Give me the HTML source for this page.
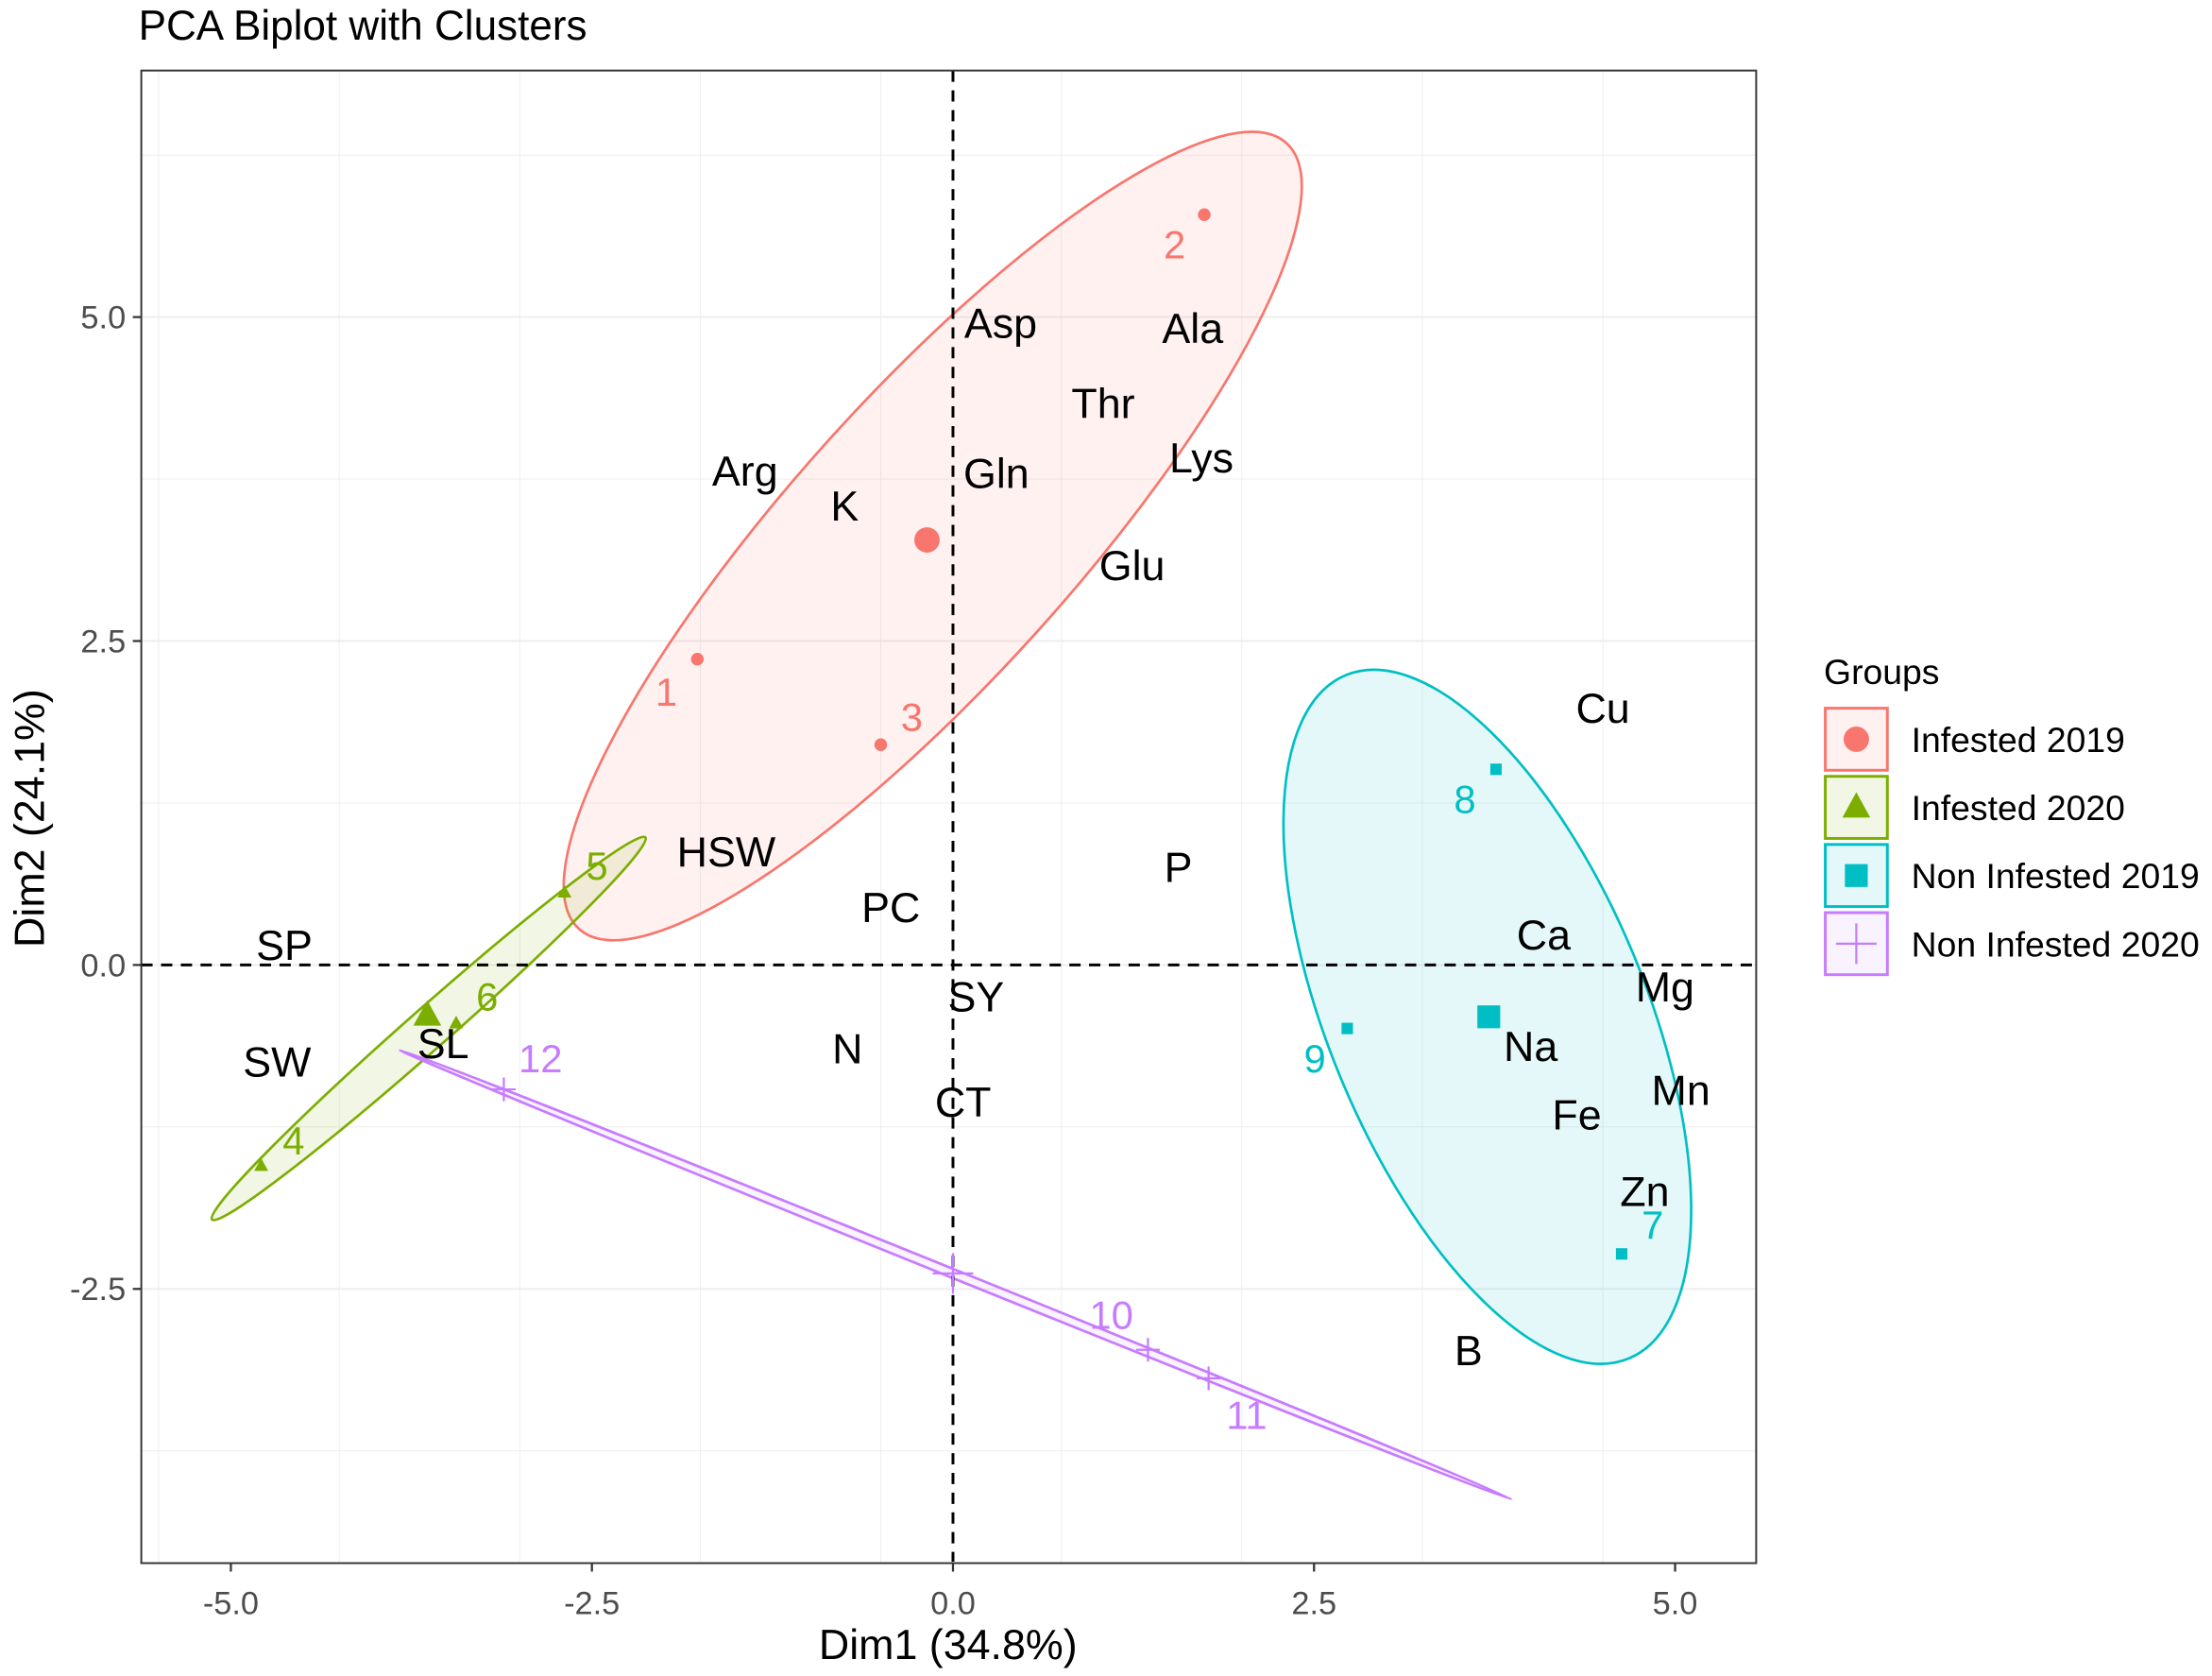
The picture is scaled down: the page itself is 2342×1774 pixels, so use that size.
<!DOCTYPE html>
<html><head><meta charset="utf-8"><style>
html,body{margin:0;padding:0;background:#fff}
svg{display:block}
text{font-family:"Liberation Sans",Arial,sans-serif}
</style></head><body>
<svg id="chart" width="2342" height="1774" viewBox="0 0 1568 1188" xmlns="http://www.w3.org/2000/svg">
<text x="98" y="28" font-size="29.5" fill="#000">PCA Biplot with Clusters</text>
<g id="grid"></g>
<g id="ells"></g>
<g id="axes0"></g>
<g id="pts"></g>
<g id="vars"></g>
<rect x="100" y="50" width="1145" height="1058" fill="none" stroke="#333" stroke-width="1.3"/>
<g id="ticks"></g>
<text x="672" y="1176" font-size="30" text-anchor="middle">Dim1 (34.8%)</text>
<text transform="translate(31,580) rotate(-90)" font-size="30" text-anchor="middle">Dim2 (24.1%)</text>
<g id="legend"></g>
</svg>
<script>
const xTicks=[-5,-2.5,0,2.5,5];
const yTicks=[-2.5,0,2.5,5];
const xTickLabels=["-5.0","-2.5","0.0","2.5","5.0"];
const yTickLabels=["-2.5","0.0","2.5","5.0"];
const groups=["Infested 2019","Infested 2020","Non  Infested 2019","Non  Infested 2020"];
const colors=["#F8766D","#7CAE00","#00BFC4","#C77CFF"];
const obsLabels=["1","2","3","4","5","6","7","8","9","10","11","12"];
const obsGroup=[0,0,0,1,1,1,2,2,2,3,3,3];
const obsX=[-1.77,1.74,-0.5,-4.79,-2.69,-3.44,4.63,3.76,2.73,1.35,1.77,-3.11];
const obsY=[2.36,5.79,1.70,-1.55,0.56,-0.45,-2.23,1.51,-0.49,-2.97,-3.19,-0.96];
const centX=[-0.18,-3.64,3.71,0.0];
const centY=[3.28,-0.39,-0.40,-2.38];
const varNames=["Asp","Ala","Thr","Lys","Arg","K","Gln","Glu","HSW","PC","P","SP","SW","SL","N","SY","CT","Cu","Ca","Mg","Na","Mn","Fe","Zn","B"];
const varX=[0.33,1.66,1.04,1.72,-1.44,-0.75,0.30,1.24,-1.57,-0.43,1.56,-4.63,-4.68,-3.53,-0.73,0.16,0.07,4.50,4.09,4.93,4.00,5.04,4.32,4.79,3.57];
const varY=[4.96,4.92,4.34,3.92,3.82,3.55,3.80,3.09,0.88,0.45,0.76,0.16,-0.74,-0.60,-0.64,-0.24,-1.05,1.99,0.24,-0.16,-0.62,-0.96,-1.15,-1.74,-2.97];
const ellCX=[-0.14,-3.63,3.7,0.02];
const ellCY=[3.31,-0.49,-0.4,-2.39];
const ellA=[3.66,2.0,2.56,4.15];
const ellB=[0.98,0.14,1.1,0.03];
const ellAng=[-48,-41.4,67.5,22];
const lblDX=[-22,-21,22,23,23,22,22,-22,-23,-26,27,26];
const lblDY=[23,21,-20,-18,-19,-19,-21,21,21,-25,26,-22];

const xs=v=>675.5+v*102.4, ys=v=>684-v*91.85;
const NS="http://www.w3.org/2000/svg";
function mk(tag,attrs,parent){const e=document.createElementNS(NS,tag);for(const k in attrs)e.setAttribute(k,attrs[k]);document.getElementById(parent).appendChild(e);return e;}
for(let v=-5.5;v<=5.5;v+=1.25){const e=mk('line',{x1:xs(v),x2:xs(v),y1:50,y2:1107,stroke:'#EBEBEB','stroke-width':(Math.abs(v/2.5-Math.round(v/2.5))<1e-6)?1.1:0.55},'grid');

}
for(let v=-3.75;v<=6.5;v+=1.25){const e=mk('line',{x1:100,x2:1245,y1:ys(v),y2:ys(v),stroke:'#EBEBEB','stroke-width':(Math.abs(v/2.5-Math.round(v/2.5))<1e-6)?1.1:0.55},'grid');

}
for(let i=0;i<4;i++){
  const a=ellA[i]*102.4, b=ellB[i]*102.4;
  const e=mk('ellipse',{cx:xs(ellCX[i]),cy:ys(ellCY[i]),rx:a,ry:Math.max(b,1.5),transform:`rotate(${ellAng[i]} ${xs(ellCX[i])} ${ys(ellCY[i])})`,fill:colors[i],'fill-opacity':0.1,stroke:colors[i],'stroke-width':1.8},'ells');
  
  
}
let z=mk('line',{x1:xs(0),x2:xs(0),y1:50,y2:1107,stroke:'#000','stroke-width':2,'stroke-dasharray':'8 6'},'axes0');


z=mk('line',{x1:100,x2:1245,y1:ys(0),y2:ys(0),stroke:'#000','stroke-width':2,'stroke-dasharray':'8 6'},'axes0');


function marker(g,x,y,s,parent){
  let e;
  if(g===0)e=mk('circle',{cx:x,cy:y,r:s,fill:colors[0]},parent);
  else if(g===1)e=mk('polygon',{points:`${x},${y-s*1.2} ${x-s*1.1},${y+s*0.8} ${x+s*1.1},${y+s*0.8}`,fill:colors[1]},parent);
  else if(g===2)e=mk('rect',{x:x-s*0.9,y:y-s*0.9,width:s*1.8,height:s*1.8,fill:colors[2]},parent);
  else e=mk('path',{d:`M${x-s*1.2},${y}H${x+s*1.2}M${x},${y-s*1.2}V${y+s*1.2}`,stroke:colors[3],'stroke-width':1.5,fill:'none'},parent);
  return e;
}
for(let i=0;i<obsX.length;i++){
  const x=xs(obsX[i]),y=ys(obsY[i]),g=obsGroup[i];
  const m=marker(g,x,y,g===3?7:4.5,'pts');
  
  
  const t=mk('text',{x:x+lblDX[i],y:y+lblDY[i]+10,'font-size':28,'text-anchor':'middle',fill:colors[g]},'pts');
  t.textContent=obsLabels[i];
  
  
}
for(let i=0;i<4;i++){
  const m=marker(i,xs(centX[i]),ys(centY[i]),i===3?12:9,'pts');
  
  
}
for(let i=0;i<varNames.length;i++){
  const t=mk('text',{x:xs(varX[i]),y:ys(varY[i])+11,'font-size':30,'text-anchor':'middle',fill:'#000'},'vars');
  t.textContent=varNames[i];
  
  
}
for(let i=0;i<xTicks.length;i++){
  const x=xs(xTicks[i]);
  let e=mk('line',{x1:x,x2:x,y1:1108,y2:1114,stroke:'#333','stroke-width':1.5},'ticks');
  
  
  e=mk('text',{x:x,y:1144,'font-size':23,'text-anchor':'middle',fill:'#4d4d4d'},'ticks');
  e.textContent=xTickLabels[i];
  
  
}
for(let i=0;i<yTicks.length;i++){
  const y=ys(yTicks[i]);
  let e=mk('line',{x1:94,x2:100,y1:y,y2:y,stroke:'#333','stroke-width':1.5},'ticks');
  
  
  e=mk('text',{x:89,y:y+8,'font-size':23,'text-anchor':'end',fill:'#4d4d4d'},'ticks');
  e.textContent=yTickLabels[i];
  
  
}
let lt=mk('text',{x:1293,y:485,'font-size':25},'legend');
lt.textContent='Groups';


for(let i=0;i<4;i++){
  const y0=502+i*48.3;
  let r=mk('rect',{x:1294,y:y0,width:44,height:44,fill:colors[i],'fill-opacity':0.1,stroke:colors[i],'stroke-width':2},'legend');
  
  
  const m=marker(i,1316,y0+22,i===3?12:9,'legend');
  
  
  const t=mk('text',{x:1355,y:y0+31,'font-size':25},'legend');
  t.textContent=groups[i];
  
  
}
</script>
</body></html>
